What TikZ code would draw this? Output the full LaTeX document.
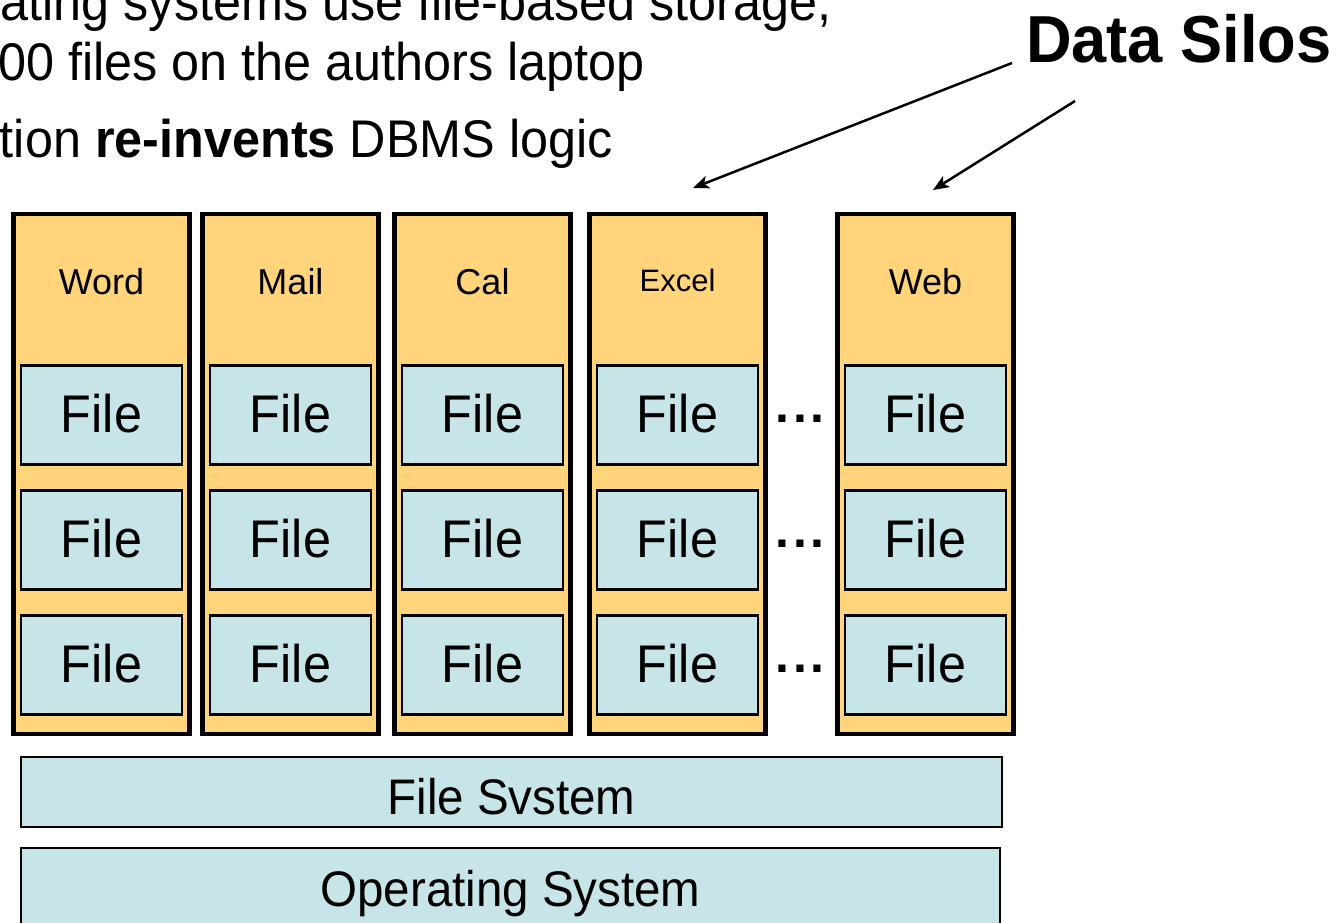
\documentclass[tikz,border=0pt]{standalone}
\usepackage{fontspec}
\setmainfont{Liberation Sans}
\newfontfamily\nsf[FakeStretch=0.95]{Liberation Sans}
\usetikzlibrary{arrows.meta}
\definecolor{silo}{HTML}{FFD47A}
\definecolor{filebl}{HTML}{C7E5E8}
\begin{document}
\begin{tikzpicture}[x=1pt,y=-1pt,
  column/.style={draw=black, line width=4.2pt, fill=silo, minimum width=176pt,
    minimum height=520pt, inner sep=0pt},
  filebox/.style={draw=black, line width=2.2pt, fill=filebl, minimum width=161pt,
    minimum height=99pt, inner sep=0pt, font=\nsf\fontsize{53}{53}\selectfont,
    text height=34pt, text depth=0pt},
  layer/.style={draw=black, line width=2pt, fill=filebl, inner sep=0pt,
    font=\nsf\fontsize{50}{50}\selectfont, text depth=0pt},
  toptext/.style={inner sep=0pt, anchor=base east, font=\nsf\fontsize{53}{60}\selectfont},
  dots/.style={inner sep=0pt, anchor=base west, font=\bfseries\fontsize{50}{50}\selectfont},
  pointer/.style={line width=2.5pt, -{Stealth[length=16pt,width=13pt,inset=4pt]}}
]
\useasboundingbox (0,0) rectangle (1336,922);
\clip (0,0) rectangle (1336,922);

% top text (cut off at the left edge)
\node[toptext] (l1) at (832,20) {ating systems use file-based storage,};
\node[toptext] (l2) at (645,80) {00 files on the authors laptop};
\node[toptext] (l3) at (613,157) {tion \textbf{re-invents} DBMS logic};

% data silos label and arrows
\node[inner sep=0pt, anchor=base west, font=\nsf\bfseries\fontsize{66.5}{66}\selectfont]
  (silos) at (1026,62) {Data Silos};
\coordinate (s1) at (1012,63);
\coordinate (s2) at (1075,101);
\coordinate (t1) at (693,188);
\coordinate (t2) at (933,190);
\draw[pointer] (s1) -- (t1);
\draw[pointer] (s2) -- (t2);

% columns
\foreach \n/\x/\lab/\fs/\bl in {word/101.5/Word/36/294, mail/290.5/Mail/36/294,
    cal/482.5/Cal/36/294, excel/677.5/Excel/31/291, web/925.5/Web/36/294}{
  \node[column] (\n) at (\x,474) {};
  \node[inner sep=0pt, anchor=base, font=\fontsize{\fs}{\fs}\selectfont]
    (\n lbl) at (\x,\bl) {\lab};
  \node[filebox] (\n1) at (\x,415) {File};
  \node[filebox] (\n2) at (\x,540) {File};
  \node[filebox] (\n3) at (\x,665) {File};
}

% ellipses between Excel and Web
\node[dots] (d1) at (775.4,422) {.\kern3.6pt.\kern3.6pt.};
\node[dots] (d2) at (775.4,547) {.\kern3.6pt.\kern3.6pt.};
\node[dots] (d3) at (775.4,672) {.\kern3.6pt.\kern3.6pt.};

% layers
\node[layer, minimum width=981pt, minimum height=70pt, text height=44pt]
  (fs) at (511.5,792) {File Svstem};
\node[layer, minimum width=979pt, minimum height=116pt, text height=0pt]
  (os) at (510.5,906) {Operating System};
\end{tikzpicture}
\end{document}
